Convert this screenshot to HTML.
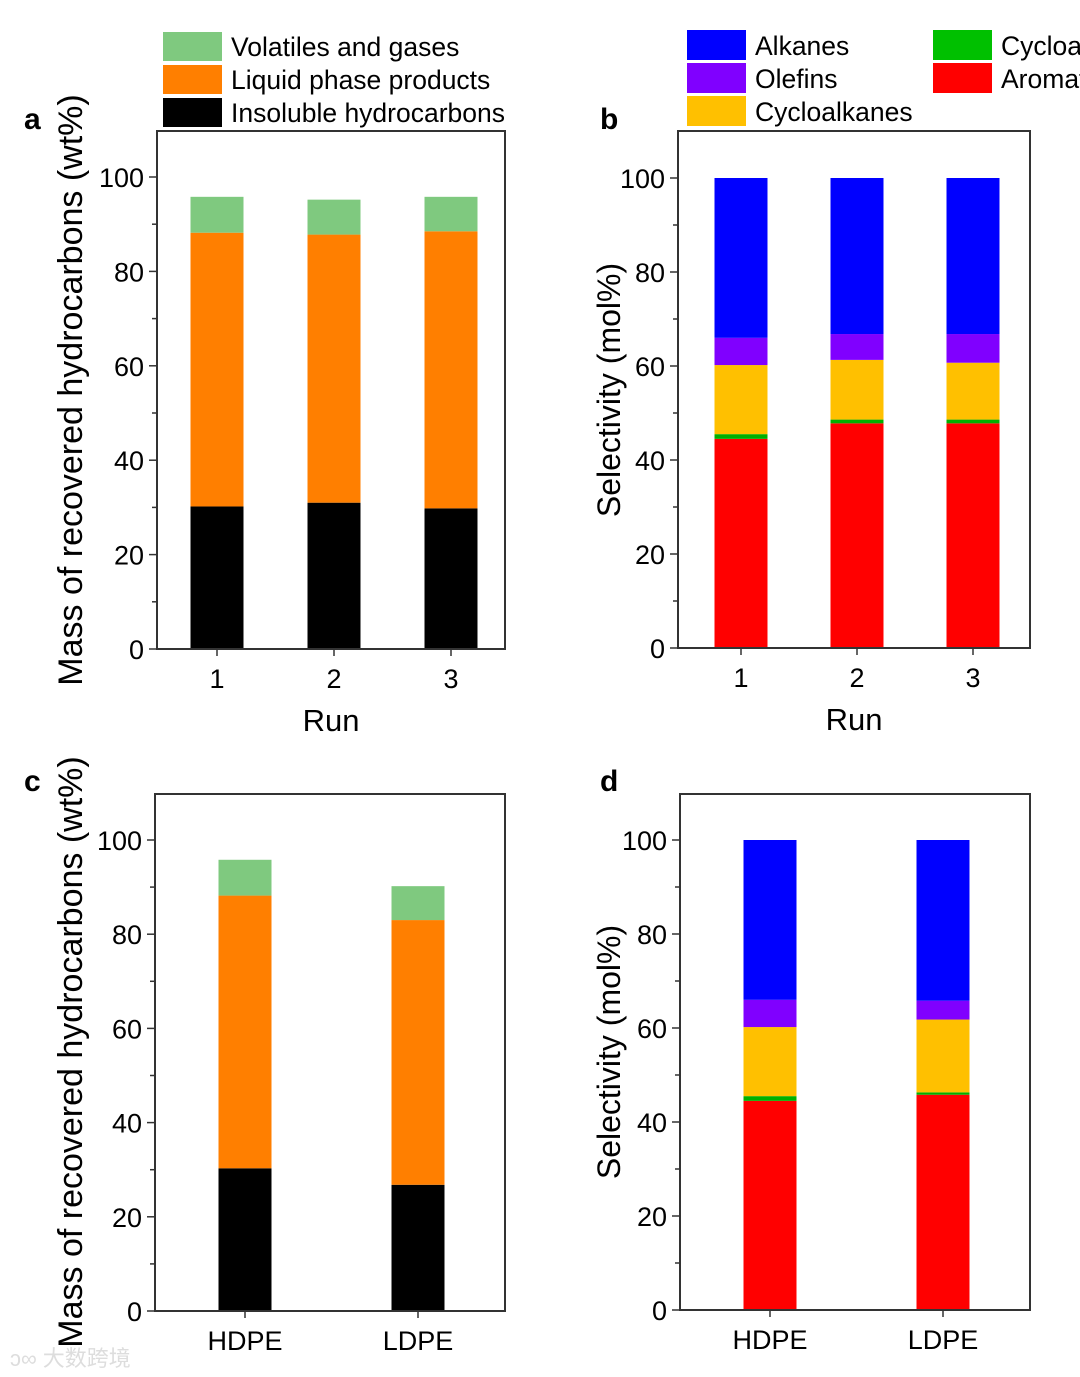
<!DOCTYPE html>
<html><head><meta charset="utf-8"><style>
html,body{margin:0;padding:0;background:#fff;}
svg{display:block;font-family:"Liberation Sans",Arial,sans-serif;}
</style></head><body>
<svg id="fig" width="1080" height="1377" viewBox="0 0 1080 1377" xmlns="http://www.w3.org/2000/svg">
<g font-size="26.5" fill="#000">
<rect x="163" y="32" width="59" height="29" fill="#7fc97f"/>
<text x="231" y="56">Volatiles and gases</text>
<rect x="163" y="65" width="59" height="29" fill="#ff7f00"/>
<text x="231" y="89">Liquid phase products</text>
<rect x="163" y="98" width="59" height="29" fill="#000"/>
<text x="231" y="122">Insoluble hydrocarbons</text>
</g>
<g font-size="26.5" fill="#000">
<rect x="687" y="30" width="59" height="30" fill="#0000ff"/>
<text x="755" y="55">Alkanes</text>
<rect x="687" y="63" width="59" height="30" fill="#8000ff"/>
<text x="755" y="88">Olefins</text>
<rect x="687" y="96" width="59" height="30" fill="#ffc000"/>
<text x="755" y="121">Cycloalkanes</text>
<rect x="933" y="30" width="59" height="30" fill="#00c000"/>
<text x="1001" y="55">Cycloalkenes</text>
<rect x="933" y="63" width="59" height="30" fill="#ff0000"/>
<text x="1001" y="88">Aromatics</text>
</g>
<text x="24" y="129" font-size="30" font-weight="bold">a</text>
<text x="600" y="129" font-size="30" font-weight="bold">b</text>
<text x="24" y="791" font-size="30" font-weight="bold">c</text>
<text x="600" y="791" font-size="30" font-weight="bold">d</text>
<text x="10" y="1366" font-size="22" fill="#ddd" font-family="'Liberation Sans','Noto Sans CJK SC',sans-serif">ↄ∞ 大数跨境</text>
</svg>
<script>
// Panel a: runs
const runCats = ["1","2","3"];
const aInsoluble = [30.2, 31.0, 29.8];
const aLiquid = [58.0, 56.8, 58.7];
const aVolatile = [7.6, 7.4, 7.3];
// Panel b
const bAromatics = [44.5, 47.8, 47.8];
const bCycloalkenes = [1.0, 0.8, 0.8];
const bCycloalkanes = [14.7, 12.7, 12.1];
const bOlefins = [5.8, 5.5, 6.1];
const bAlkanes = [34.0, 33.2, 33.2];
// Panel c
const plastCats = ["HDPE","LDPE"];
const cInsoluble = [30.3, 26.8];
const cLiquid = [57.9, 56.2];
const cVolatile = [7.6, 7.2];
// Panel d
const dAromatics = [44.5, 45.8];
const dCycloalkenes = [1.0, 0.5];
const dCycloalkanes = [14.7, 15.5];
const dOlefins = [5.8, 4.0];
const dAlkanes = [34.0, 34.2];
const yTicks = [0,20,40,60,80,100];

const NS="http://www.w3.org/2000/svg";
const svg=document.getElementById('fig');
function mk(tag,attrs,parent){const e=document.createElementNS(NS,tag);for(const k in attrs)e.setAttribute(k,attrs[k]);(parent||svg).appendChild(e);return e;}

function panel(p){
  const g=mk('g',{});
  
  
  const y=v=>p.y0+(p.y100-p.y0)*v/100;
  const x=i=>p.c0+i*p.step;
  p.cats.forEach((c,i)=>{
    let base=0;
    p.series.forEach(s=>{
      const v=s.vals[i];
      const r=mk('rect',{x:x(i)-26.5,y:y(base+v),width:53,height:y(base)-y(base+v),fill:s.color},g);
      
      
      base+=v;
    });
  });
  const f=mk('rect',{x:p.L,y:p.T,width:p.R-p.L,height:p.y0-p.T,fill:'none',stroke:'#333','stroke-width':2},g);
  
  
  for(let v=0;v<=100;v+=10){
    mk('line',{x1:p.L,x2:p.L-(v%20===0?8:5),y1:y(v),y2:y(v),stroke:'#333','stroke-width':1.5},g);
  }
  yTicks.forEach(v=>{
    const t=mk('text',{x:p.L-13,y:y(v)+10,'font-size':27,'text-anchor':'end'},g);
    t.textContent=v;
    
    
  });
  p.cats.forEach((c,i)=>{
    mk('line',{x1:x(i),x2:x(i),y1:p.y0,y2:p.y0+7,stroke:'#333','stroke-width':1.5},g);
    const t=mk('text',{x:x(i),y:p.y0+39,'font-size':27,'text-anchor':'middle'},g);
    t.textContent=c;
    
    
  });
  if(p.xTitle){
    const t=mk('text',{x:(p.L+p.R)/2,y:p.y0+82,'font-size':31,'text-anchor':'middle'},g);
    t.textContent=p.xTitle;
    
    
  }
  const yt=mk('text',{x:0,y:0,'font-size':p.ytSize,'text-anchor':'middle',transform:`translate(${p.ytx},${p.yty}) rotate(-90)`},g);
  yt.textContent=p.yTitle;
  
  
}
const mass=(a,b,c)=>[{key:'insoluble',vals:a,color:'#000'},{key:'liquid',vals:b,color:'#ff7f00'},{key:'volatiles',vals:c,color:'#7fc97f'}];
const sel=(a,b,c,d,e)=>[{key:'aromatics',vals:a,color:'#ff0000'},{key:'cycloalkenes',vals:b,color:'#00b000'},{key:'cycloalkanes',vals:c,color:'#ffc000'},{key:'olefins',vals:d,color:'#8000ff'},{key:'alkanes',vals:e,color:'#0000ff'}];
const MT="Mass of recovered hydrocarbons (wt%)", ST="Selectivity (mol%)";
panel({name:'panel-a',cats:runCats,series:mass(aInsoluble,aLiquid,aVolatile),L:157,R:505,T:131,y0:649,y100:177,c0:217,step:117,xTitle:'Run',yTitle:MT,ytx:82,yty:390,ytSize:34});
panel({name:'panel-b',cats:runCats,series:sel(bAromatics,bCycloalkenes,bCycloalkanes,bOlefins,bAlkanes),L:678,R:1030,T:131,y0:648,y100:178,c0:741,step:116,xTitle:'Run',yTitle:ST,ytx:620,yty:390,ytSize:32});
panel({name:'panel-c',cats:plastCats,series:mass(cInsoluble,cLiquid,cVolatile),L:155,R:505,T:794,y0:1311,y100:840,c0:245,step:173,xTitle:null,yTitle:MT,ytx:82,yty:1052,ytSize:34});
panel({name:'panel-d',cats:plastCats,series:sel(dAromatics,dCycloalkenes,dCycloalkanes,dOlefins,dAlkanes),L:680,R:1030,T:794,y0:1310,y100:840,c0:770,step:173,xTitle:null,yTitle:ST,ytx:620,yty:1052,ytSize:32});
</script>
</body></html>
